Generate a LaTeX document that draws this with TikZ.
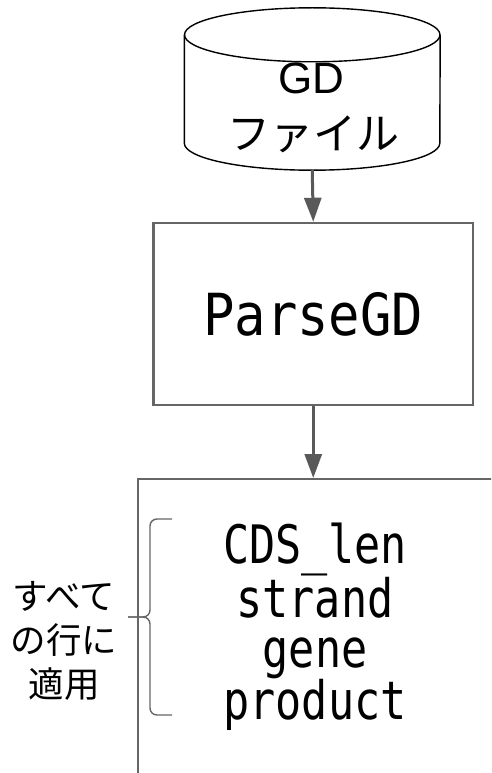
\documentclass[tikz,border=0pt]{standalone}
\usepackage{fontspec}
\setmainfont{Liberation Sans}
\newfontfamily\jpfont{Noto Sans CJK JP}
\newfontfamily\codefont[FakeStretch=0.9]{DejaVu Sans Mono}
\newfontfamily\listfont[FakeStretch=0.82]{DejaVu Sans Mono}
\usetikzlibrary{arrows.meta}

\definecolor{linegray}{HTML}{666666}
\definecolor{arrowgray}{HTML}{595959}

\tikzset{
    flow/.style={draw=arrowgray, line width=3pt,
        -{Triangle[width=17pt, length=24pt]}},
    cyl/.style={draw=black, line width=1.4pt},
    procbox/.style={draw=linegray, line width=2.5pt, rectangle,
        minimum width=319.5pt, minimum height=182pt, inner sep=0pt},
    rowsbox/.style={draw=linegray, line width=2.2pt, rectangle,
        minimum width=600pt, minimum height=500pt, inner sep=0pt},
    bracket/.style={draw=linegray, line width=1.4pt, rounded corners=7pt},
}

\begin{document}
\begin{tikzpicture}[x=1pt, y=-1pt]

    \useasboundingbox (0,0) rectangle (491,773);
    \clip (0,0) rectangle (491,773);

    % GD file (cylinder)
    \node[minimum width=255.5pt, minimum height=162pt, inner sep=0pt] (gdfile) at (312.25,89) {};
    \draw[cyl] ([yshift=-27pt]gdfile.north west) -- ([yshift=27pt]gdfile.south west)
        arc[start angle=180, end angle=360, x radius=127.75pt, y radius=27pt]
        -- ([yshift=-27pt]gdfile.north east);
    \draw[cyl] ([yshift=-27pt]gdfile.north) ellipse[x radius=127.75pt, y radius=27pt];
    \node[anchor=base, inner sep=0pt, font=\fontsize{44}{50}\selectfont] (gdtext) at (311,94) {GD};
    \node[anchor=base, inner sep=0pt, font=\fontsize{43}{50}\selectfont\jpfont] (filetext) at (313,149) {ファイル};

    % Parser step
    \node[procbox, font=\fontsize{58}{60}\selectfont\codefont] (parse) at (313.25,314) {ParseGD};

    % Per-row fields (box runs off the page)
    \node[rowsbox, anchor=north west] (rows) at (137,478) {};
    \node[align=center, inner sep=0pt, font=\fontsize{53}{50}\selectfont\listfont] (fields) at (315,627)
        {CDS\_len\\strand\\gene\\product};

    % Arrows
    \draw[flow] (gdfile.south) -- (parse.north);
    \draw[flow] (parse.south) -- (parse.south |- rows.north);

    % Brace and note
    \draw[bracket] (172,519) -- (150,519) -- (150,617) -- (128,617);
    \draw[bracket] (172,715) -- (150,715) -- (150,617) -- (128,617);
    \node[align=center, inner sep=0pt, font=\fontsize{35.5}{44}\selectfont\jpfont] (note) at (64,641)
        {すべて\\の行に\\適用};

\end{tikzpicture}
\end{document}
